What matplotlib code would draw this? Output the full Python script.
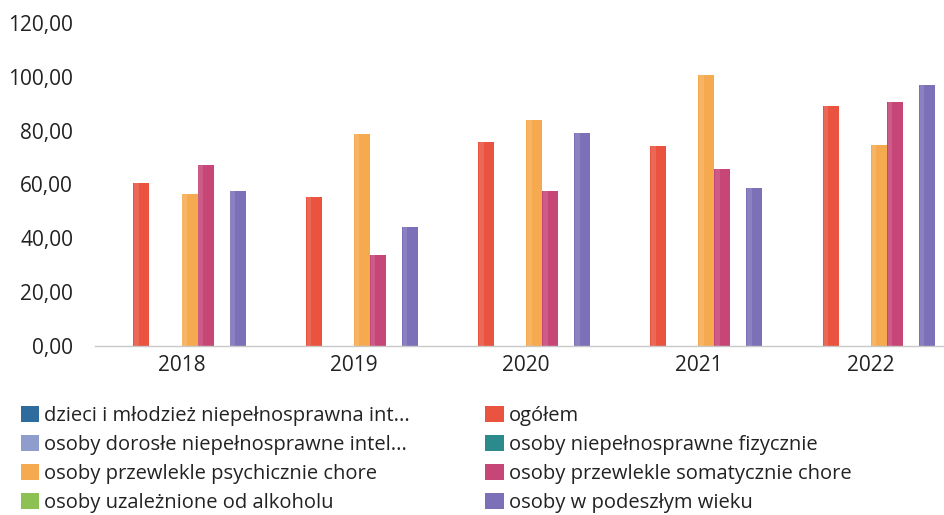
import matplotlib.pyplot as plt
import numpy as np
from matplotlib.patches import Patch
from matplotlib.ticker import FuncFormatter

plt.rcParams["font.family"] = ["Open Sans", "DejaVu Sans"]

years = ["2018", "2019", "2020", "2021", "2022"]

# bar order inside each year group (alphabetical, as in the source chart)
series_names = [
    "dzieci i młodzież niepełnosprawna int...",
    "ogółem",
    "osoby dorosłe niepełnosprawne intel...",
    "osoby niepełnosprawne fizycznie",
    "osoby przewlekle psychicznie chore",
    "osoby przewlekle somatycznie chore",
    "osoby uzależnione od alkoholu",
    "osoby w podeszłym wieku",
]
dzieci = [0, 0, 0, 0, 0]
ogolem = [60.7, 55.3, 76.0, 74.3, 89.3]
dorosle = [0, 0, 0, 0, 0]
fizycznie = [0, 0, 0, 0, 0]
psychicznie = [56.6, 78.9, 84.1, 100.6, 74.8]
somatycznie = [67.2, 33.9, 57.5, 65.6, 90.9]
alkohol = [0, 0, 0, 0, 0]
podeszly = [57.4, 44.1, 79.1, 58.7, 97.1]

series_values = [dzieci, ogolem, dorosle, fizycznie,
                 psychicznie, somatycznie, alkohol, podeszly]
colors = ["#2d6c9c", "#e9533f", "#8e9dcb", "#2b8a8c",
          "#f6aa4f", "#c64677", "#8dc154", "#7c70b9"]

fig = plt.figure(figsize=(9.44, 5.15), dpi=100)
ax = fig.add_axes([0.101, 0.329, 0.899, 0.6256])

x = np.arange(len(years))
n = len(series_names)
width = 0.0929
for i, (vals, col) in enumerate(zip(series_values, colors)):
    pos = x + (i - (n - 1) / 2) * width
    ax.bar(pos, vals, width=width, color=col, edgecolor="none")
    # soft highlight on the left edge, like the original rendering
    ax.bar(pos - width * 0.3, vals, width=width * 0.3,
           color="white", alpha=0.12, edgecolor="none")

ax.set_xlim(-0.5, 4.425)
ax.set_ylim(0, 120)
ax.set_yticks(np.arange(0, 121, 20))
ax.yaxis.set_major_formatter(FuncFormatter(lambda v, p: f"{v:.2f}".replace(".", ",")))
ax.set_xticks(x)
ax.set_xticklabels(years)
ax.tick_params(axis="y", length=0, pad=16, labelsize=15, labelcolor="#222222")
ax.tick_params(axis="x", length=0, pad=7, labelsize=15, labelcolor="#222222")

for s in ["top", "right", "left"]:
    ax.spines[s].set_visible(False)
ax.spines["bottom"].set_color("#c8c8c8")
ax.spines["bottom"].set_linewidth(1.0)

handles = [Patch(facecolor=c, edgecolor="none", label=lab)
           for c, lab in zip(colors, series_names)]
col1 = [handles[i] for i in (0, 2, 4, 6)]
col2 = [handles[i] for i in (1, 3, 5, 7)]

leg_kw = dict(frameon=False, fontsize=14.5, handlelength=0.92,
              handleheight=0.85, handletextpad=0.25, labelspacing=0.45,
              borderaxespad=0, borderpad=0, labelcolor="#222222")
fig.legend(handles=col1, loc="upper left",
           bbox_to_anchor=(0.022, 0.212), **leg_kw)
fig.legend(handles=col2, loc="upper left",
           bbox_to_anchor=(0.514, 0.212), **leg_kw)

fig.savefig("out.png", dpi=100)
